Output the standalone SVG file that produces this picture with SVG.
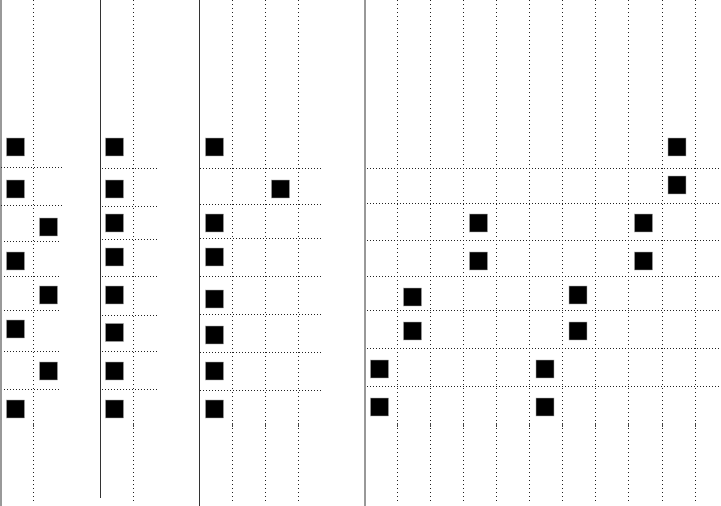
<svg xmlns="http://www.w3.org/2000/svg" width="721" height="506" viewBox="0 0 721 506">
<style>
.solid{stroke:#333;stroke-width:1;fill:none}
.edge{stroke:#777;stroke-width:1.5;fill:none}
.vd{stroke:#222;stroke-width:1;stroke-dasharray:1,3;fill:none}
.hd{stroke:#222;stroke-width:1;stroke-dasharray:1,2;fill:none}
.tick{stroke:#444;stroke-width:1;fill:none}
.sq{fill:#000;stroke:#aaa;stroke-width:0.5}
</style>
<rect width="721" height="506" fill="#fff"/>
<g id="connectors">
  <line class="edge" x1="1" y1="0" x2="1" y2="506"/>
  <line class="solid" x1="100.5" y1="0" x2="100.5" y2="498"/>
  <line class="solid" x1="199.5" y1="0" x2="199.5" y2="506"/>
  <line class="solid" x1="365" y1="0" x2="365" y2="506"/>
  <!-- vertical dotted -->
  <g>
    <line class="vd" x1="33.5" y1="0" x2="33.5" y2="502"/>
    <line class="vd" x1="133.5" y1="0" x2="133.5" y2="502"/>
    <line class="vd" x1="232.5" y1="0" x2="232.5" y2="502"/>
    <line class="vd" x1="265.5" y1="0" x2="265.5" y2="502"/>
    <line class="vd" x1="298.5" y1="0" x2="298.5" y2="502"/>
    <line class="vd" x1="397.5" y1="0" x2="397.5" y2="502"/>
    <line class="vd" x1="430.5" y1="0" x2="430.5" y2="502"/>
    <line class="vd" x1="463.5" y1="0" x2="463.5" y2="502"/>
    <line class="vd" x1="496.5" y1="0" x2="496.5" y2="502"/>
    <line class="vd" x1="529.5" y1="0" x2="529.5" y2="502"/>
    <line class="vd" x1="562.5" y1="0" x2="562.5" y2="502"/>
    <line class="vd" x1="595.5" y1="0" x2="595.5" y2="502"/>
    <line class="vd" x1="628.5" y1="0" x2="628.5" y2="502"/>
    <line class="vd" x1="662.5" y1="0" x2="662.5" y2="502"/>
    <line class="vd" x1="695.5" y1="0" x2="695.5" y2="502"/>
  </g>
  <g>
    <line class="tick" x1="33.5" y1="423" x2="33.5" y2="427"/>
    <line class="tick" x1="133.5" y1="423" x2="133.5" y2="427"/>
    <line class="tick" x1="232.5" y1="423" x2="232.5" y2="427"/>
    <line class="tick" x1="265.5" y1="423" x2="265.5" y2="427"/>
    <line class="tick" x1="298.5" y1="423" x2="298.5" y2="427"/>
    <line class="tick" x1="397.5" y1="423" x2="397.5" y2="427"/>
    <line class="tick" x1="430.5" y1="423" x2="430.5" y2="427"/>
    <line class="tick" x1="463.5" y1="423" x2="463.5" y2="427"/>
    <line class="tick" x1="496.5" y1="423" x2="496.5" y2="427"/>
    <line class="tick" x1="529.5" y1="423" x2="529.5" y2="427"/>
    <line class="tick" x1="562.5" y1="423" x2="562.5" y2="427"/>
    <line class="tick" x1="595.5" y1="423" x2="595.5" y2="427"/>
    <line class="tick" x1="628.5" y1="423" x2="628.5" y2="427"/>
    <line class="tick" x1="662.5" y1="423" x2="662.5" y2="427"/>
    <line class="tick" x1="695.5" y1="423" x2="695.5" y2="427"/>
  </g>
  <!-- horizontal dotted panel 1 -->
  <line class="hd" x1="1" y1="167.5" x2="62" y2="167.5"/>
  <line class="hd" x1="1" y1="205.5" x2="62" y2="205.5"/>
  <line class="hd" x1="4" y1="241.5" x2="59" y2="241.5"/>
  <line class="hd" x1="4" y1="276.5" x2="59" y2="276.5"/>
  <line class="hd" x1="4" y1="310.5" x2="59" y2="310.5"/>
  <line class="hd" x1="4" y1="351.5" x2="59" y2="351.5"/>
  <line class="hd" x1="4" y1="389.5" x2="59" y2="389.5"/>
  <!-- panel 2 -->
  <line class="hd" x1="102" y1="168.5" x2="159" y2="168.5"/>
  <line class="hd" x1="102" y1="206.5" x2="159" y2="206.5"/>
  <line class="hd" x1="102" y1="239.5" x2="159" y2="239.5"/>
  <line class="hd" x1="102" y1="276.5" x2="159" y2="276.5"/>
  <line class="hd" x1="102" y1="315.5" x2="159" y2="315.5"/>
  <line class="hd" x1="102" y1="351.5" x2="159" y2="351.5"/>
  <line class="hd" x1="102" y1="389.5" x2="159" y2="389.5"/>
  <!-- panel 3 -->
  <line class="hd" x1="200" y1="168.5" x2="321" y2="168.5"/>
  <line class="hd" x1="200" y1="204.5" x2="321" y2="204.5"/>
  <line class="hd" x1="200" y1="238.5" x2="321" y2="238.5"/>
  <line class="hd" x1="200" y1="276.5" x2="321" y2="276.5"/>
  <line class="hd" x1="200" y1="314.5" x2="321" y2="314.5"/>
  <line class="hd" x1="200" y1="352.5" x2="321" y2="352.5"/>
  <line class="hd" x1="200" y1="390.5" x2="321" y2="390.5"/>
  <!-- panel 4 -->
  <line class="hd" x1="367" y1="168.5" x2="721" y2="168.5"/>
  <line class="hd" x1="367" y1="203.5" x2="721" y2="203.5"/>
  <line class="hd" x1="367" y1="240.5" x2="721" y2="240.5"/>
  <line class="hd" x1="367" y1="276.5" x2="721" y2="276.5"/>
  <line class="hd" x1="367" y1="310.5" x2="721" y2="310.5"/>
  <line class="hd" x1="367" y1="348.5" x2="721" y2="348.5"/>
  <line class="hd" x1="367" y1="386.5" x2="721" y2="386.5"/>
</g>
<!-- panel 1 squares -->
<g id="p1s1"><rect class="sq" x="6.5" y="138" width="18" height="18"/></g>
<g id="p1s2"><rect class="sq" x="6.5" y="180" width="18" height="18"/></g>
<g id="p1s3"><rect class="sq" x="39.5" y="218" width="18" height="18"/></g>
<g id="p1s4"><rect class="sq" x="6.5" y="252" width="18" height="18"/></g>
<g id="p1s5"><rect class="sq" x="39.5" y="286" width="18" height="18"/></g>
<g id="p1s6"><rect class="sq" x="6.5" y="320" width="18" height="18"/></g>
<g id="p1s7"><rect class="sq" x="39.5" y="362" width="18" height="18"/></g>
<g id="p1s8"><rect class="sq" x="6.5" y="400" width="18" height="18"/></g>
<!-- panel 2 squares -->
<g id="p2s1"><rect class="sq" x="105.5" y="138" width="18" height="18"/></g>
<g id="p2s2"><rect class="sq" x="105.5" y="180" width="18" height="18"/></g>
<g id="p2s3"><rect class="sq" x="105.5" y="214" width="18" height="18"/></g>
<g id="p2s4"><rect class="sq" x="105.5" y="248" width="18" height="18"/></g>
<g id="p2s5"><rect class="sq" x="105.5" y="286" width="18" height="18"/></g>
<g id="p2s6"><rect class="sq" x="105.5" y="323.5" width="18" height="18"/></g>
<g id="p2s7"><rect class="sq" x="105.5" y="362" width="18" height="18"/></g>
<g id="p2s8"><rect class="sq" x="105.5" y="400" width="18" height="18"/></g>
<!-- panel 3 squares -->
<g id="p3s1"><rect class="sq" x="205.5" y="138" width="18" height="18"/></g>
<g id="p3s2"><rect class="sq" x="271.5" y="180" width="18" height="18"/></g>
<g id="p3s3"><rect class="sq" x="205.5" y="214" width="18" height="18"/></g>
<g id="p3s4"><rect class="sq" x="205.5" y="248" width="18" height="18"/></g>
<g id="p3s5"><rect class="sq" x="205.5" y="290" width="18" height="18"/></g>
<g id="p3s6"><rect class="sq" x="205.5" y="326" width="18" height="18"/></g>
<g id="p3s7"><rect class="sq" x="205.5" y="362" width="18" height="18"/></g>
<g id="p3s8"><rect class="sq" x="205.5" y="400" width="18" height="18"/></g>
<!-- panel 4 squares -->
<g id="p4s1"><rect class="sq" x="668" y="138" width="18" height="18"/></g>
<g id="p4s2"><rect class="sq" x="668" y="176" width="18" height="18"/></g>
<g id="p4s3"><rect class="sq" x="469.5" y="214" width="18" height="18"/></g>
<g id="p4s4"><rect class="sq" x="634.5" y="214" width="18" height="18"/></g>
<g id="p4s5"><rect class="sq" x="469.5" y="252" width="18" height="18"/></g>
<g id="p4s6"><rect class="sq" x="634.5" y="252" width="18" height="18"/></g>
<g id="p4s7"><rect class="sq" x="403.5" y="288" width="18" height="18"/></g>
<g id="p4s8"><rect class="sq" x="569" y="286" width="18" height="18"/></g>
<g id="p4s9"><rect class="sq" x="403.5" y="322" width="18" height="18"/></g>
<g id="p4s10"><rect class="sq" x="569" y="322" width="18" height="18"/></g>
<g id="p4s11"><rect class="sq" x="370.5" y="360" width="18" height="18"/></g>
<g id="p4s12"><rect class="sq" x="536" y="360" width="18" height="18"/></g>
<g id="p4s13"><rect class="sq" x="370.5" y="398" width="18" height="18"/></g>
<g id="p4s14"><rect class="sq" x="536" y="398" width="18" height="18"/></g>
</svg>
